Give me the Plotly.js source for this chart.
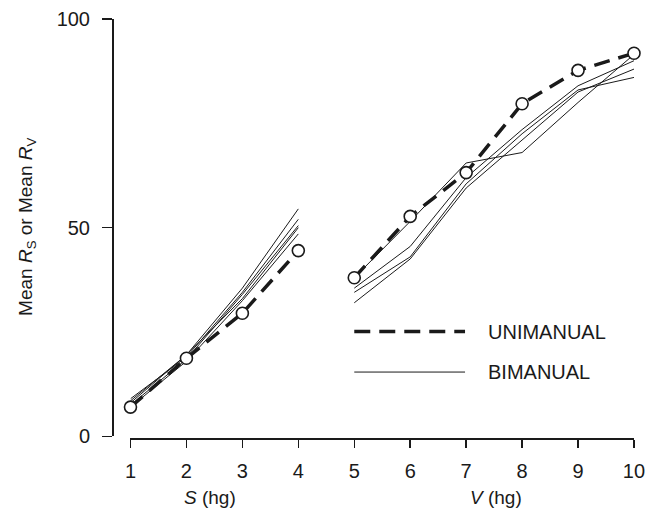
<!DOCTYPE html>
<html>
<head>
<meta charset="utf-8">
<script src="https://cdn.plot.ly/plotly-3.0.1.min.js"></script>
<style>html,body{margin:0;padding:0;background:#fff;}#chart{width:656px;height:515px;}</style>
</head>
<body>
<div id="chart"></div>
<script>
// ---- data ----
const xS = [1, 2, 3, 4];
const xV = [5, 6, 7, 8, 9, 10];
const uniS = [7, 18.7, 29.5, 44.5];
const uniV = [38, 52.7, 63.2, 79.7, 87.7, 91.8];
const biS1 = [8.5, 19.5, 35.5, 54.5];
const biS2 = [9, 19, 34.5, 52];
const biS3 = [7.5, 18.5, 34, 50.5];
const biS4 = [8, 19.5, 33, 50];
const biS5 = [7, 18, 32.5, 48.5];
const biV1 = [38, 51.5, 65.5, 68, 80, 91.5];
const biV2 = [35.5, 45.5, 62, 73.5, 84, 90];
const biV3 = [34.5, 43, 60.5, 72.5, 83, 86];
const biV4 = [32, 42.5, 59.5, 71, 82.5, 88];
const xTicks = [1, 2, 3, 4, 5, 6, 7, 8, 9, 10];
const yTicks = [0, 50, 100];
const legendNames = ['UNIMANUAL', 'BIMANUAL'];

const FONT = 'Liberation Sans, Arial, Helvetica, sans-serif';
const INK = '#1a1a1a';
const DASH = '16px,9px';

const traces = [];
[biS1, biS2, biS3, biS4, biS5].forEach(v => traces.push({
  x: xS, y: v, mode: 'lines', line: {color: INK, width: 1}, showlegend: false, hoverinfo: 'skip', cliponaxis: false
}));
[biV1, biV2, biV3, biV4].forEach(v => traces.push({
  x: xV, y: v, mode: 'lines', line: {color: INK, width: 1}, showlegend: false, hoverinfo: 'skip', cliponaxis: false
}));
[[xS, uniS], [xV, uniV]].forEach(([x, y]) => {
  traces.push({x: x, y: y, mode: 'lines', line: {color: INK, width: 3.5, dash: DASH}, showlegend: false, cliponaxis: false});
  traces.push({x: x, y: y, mode: 'markers', marker: {symbol: 'circle', size: 12, color: '#fff', line: {color: INK, width: 1.6}}, showlegend: false, cliponaxis: false});
});

const layout = {
  width: 656, height: 515,
  margin: {l: 112, r: 22, t: 19, b: 77},
  paper_bgcolor: '#fff', plot_bgcolor: '#fff',
  font: {family: FONT, size: 20, color: INK},
  showlegend: false,
  xaxis: {
    domain: [0.0354, 1], range: [1, 10], anchor: 'free', position: 0,
    tickvals: xTicks, ticktext: xTicks.map(String),
    ticks: 'outside', ticklen: 8, tickwidth: 1.5, tickcolor: INK,
    showline: true, linewidth: 1.5, linecolor: INK,
    showgrid: false, zeroline: false, ticklabelstandoff: 6
  },
  yaxis: {
    domain: [0.004, 1], range: [0, 100], anchor: 'free', position: 0,
    tickvals: yTicks, ticktext: yTicks.map(String),
    ticks: 'outside', ticklen: 10, tickwidth: 1.5, tickcolor: INK,
    showline: true, linewidth: 1.5, linecolor: INK,
    showgrid: false, zeroline: false, ticklabelstandoff: 8
  },
  shapes: [
    {type: 'line', xref: 'x', yref: 'y', x0: 5.0, x1: 6.98, y0: 25.1, y1: 25.1, line: {color: INK, width: 3.5, dash: DASH}},
    {type: 'line', xref: 'x', yref: 'y', x0: 5.0, x1: 6.98, y0: 15.4, y1: 15.4, line: {color: INK, width: 1}}
  ],
  annotations: [
    {xref: 'x', yref: 'y', x: 7.36, y: 25.1, xanchor: 'left', yanchor: 'middle', text: legendNames[0], showarrow: false},
    {xref: 'x', yref: 'y', x: 7.36, y: 15.4, xanchor: 'left', yanchor: 'middle', text: legendNames[1], showarrow: false},
    {xref: 'x', yref: 'paper', x: 2.42, y: -0.141, xanchor: 'center', yanchor: 'middle', text: '<i>S</i> (hg)', showarrow: false, font: {size: 19}},
    {xref: 'x', yref: 'paper', x: 7.54, y: -0.141, xanchor: 'center', yanchor: 'middle', text: '<i>V</i> (hg)', showarrow: false, font: {size: 19}},
    {xref: 'paper', yref: 'paper', x: -0.163, y: 0.5036, xanchor: 'center', yanchor: 'middle', textangle: -90,
     text: 'Mean <i>R</i><sub>S</sub> or Mean <i>R</i><sub>V</sub>', showarrow: false, font: {size: 19}}
  ]
};

Plotly.newPlot('chart', traces, layout, {staticPlot: true, displayModeBar: false});
</script>
</body>
</html>
